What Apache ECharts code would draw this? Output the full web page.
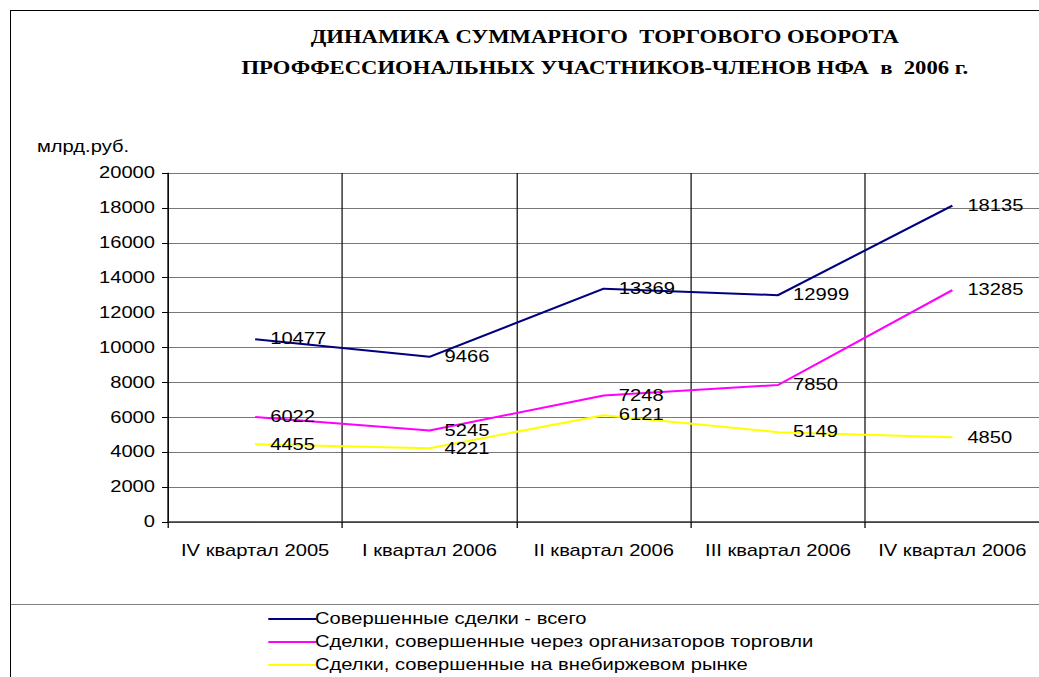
<!DOCTYPE html>
<html>
<head>
<meta charset="utf-8">
<script src="https://cdn.jsdelivr.net/npm/echarts@6/dist/echarts.min.js"></script>
<style>
  html, body { margin: 0; padding: 0; background: #fff; overflow: hidden; }
  #chart { position: absolute; left: 0; top: 0; height: 677px; transform-origin: 0 0; }
  #frame { position: absolute; left: 10px; top: 10px; right: 0; bottom: -5px;
           border-top: 1px solid #000; border-left: 1px solid #000; pointer-events: none; }
</style>
</head>
<body>
<div id="chart"></div>
<div id="frame"></div>
<script>
// data
const quarters = ['IV квартал 2005', 'I квартал 2006', 'II квартал 2006', 'III квартал 2006', 'IV квартал 2006'];
const totalDeals = [10477, 9466, 13369, 12999, 18135];
const exchangeDeals = [6022, 5245, 7248, 7850, 13285];
const otcDeals = [4455, 4221, 6121, 5149, 4850];
const seriesNames = [
    'Совершенные сделки - всего',
    'Сделки, совершенные через организаторов торговли',
    'Сделки, совершенные на внебиржевом рынке'
];
const seriesColors = ['#000080', '#ff00ff', '#ffff00'];

// the original picture is stretched sideways, so the chart is drawn narrower and widened
const SX = 1.26;
const px = (x) => x / SX;
const font = '"Liberation Sans", Arial, sans-serif';

const el = document.getElementById('chart');
el.style.width = px(1039) + 'px';
el.style.transform = 'scaleX(' + SX + ')';

function makeLine(name, data, color) {
    return {
        name: name,
        type: 'line',
        data: data,
        symbol: 'circle',
        symbolSize: 0.1,
        showSymbol: true,
        itemStyle: {color: color},
        color: color,
        lineStyle: {width: 2, color: color},
        label: {
            show: true,
            position: 'right',
            distance: px(15),
            color: '#000',
            fontSize: 16,
            fontFamily: font
        },
        labelLayout: {hideOverlap: false},
        z: 3
    };
}

const chart = echarts.init(el, null, {renderer: 'svg'});
const option = {
    backgroundColor: '#fff',
    animation: false,
    title: {
        text: 'ДИНАМИКА СУММАРНОГО  ТОРГОВОГО ОБОРОТА\nПРОФФЕССИОНАЛЬНЫХ УЧАСТНИКОВ-ЧЛЕНОВ НФА  в  2006 г.',
        left: px(598.5),
        top: 16,
        textAlign: 'center',
        textStyle: {
            fontFamily: '"Liberation Serif", "Times New Roman", serif',
            fontWeight: 'bold',
            fontSize: 18,
            lineHeight: 31,
            color: '#000'
        }
    },
    legend: {
        orient: 'vertical',
        left: px(262),
        top: 606,
        height: 100,
        itemWidth: px(48),
        itemHeight: 2,
        itemGap: 7,
        icon: 'rect',
        textStyle: {fontSize: 16, fontFamily: font, color: '#000', padding: [0, 0, 0, -6]},
        data: seriesNames
    },
    grid: {left: px(168), top: 173, width: px(875), height: 349, containLabel: false},
    xAxis: {
        type: 'category',
        data: quarters,
        boundaryGap: true,
        axisLine: {lineStyle: {color: '#333', width: 1.5}},
        axisTick: {show: true, length: 6, lineStyle: {color: '#000'}},
        axisLabel: {color: '#000', fontSize: 16, fontFamily: font, margin: 21, interval: 0},
        splitLine: {show: true, lineStyle: {color: '#111', width: 1}}
    },
    yAxis: {
        type: 'value',
        min: 0,
        max: 20000,
        interval: 2000,
        axisLine: {show: true, lineStyle: {color: '#000', width: 1}},
        axisTick: {show: true, length: px(6), lineStyle: {color: '#000'}},
        axisLabel: {color: '#000', fontSize: 16, fontFamily: font, margin: px(13), formatter: (v) => String(v)},
        splitLine: {show: true, lineStyle: {color: '#777', width: 1}}
    },
    series: [
        makeLine(seriesNames[0], totalDeals, seriesColors[0]),
        makeLine(seriesNames[1], exchangeDeals, seriesColors[1]),
        makeLine(seriesNames[2], otcDeals, seriesColors[2])
    ],
    graphic: [
        {type: 'rect', z: 10, silent: true, shape: {x: px(10), y: 604, width: px(1029), height: 1}, style: {fill: '#808080'}},
        {type: 'text', left: px(37), top: 139, style: {text: 'млрд.руб.', fontSize: 16, fontFamily: font, fill: '#000'}}
    ]
};
chart.setOption(option);
</script>
</body>
</html>
